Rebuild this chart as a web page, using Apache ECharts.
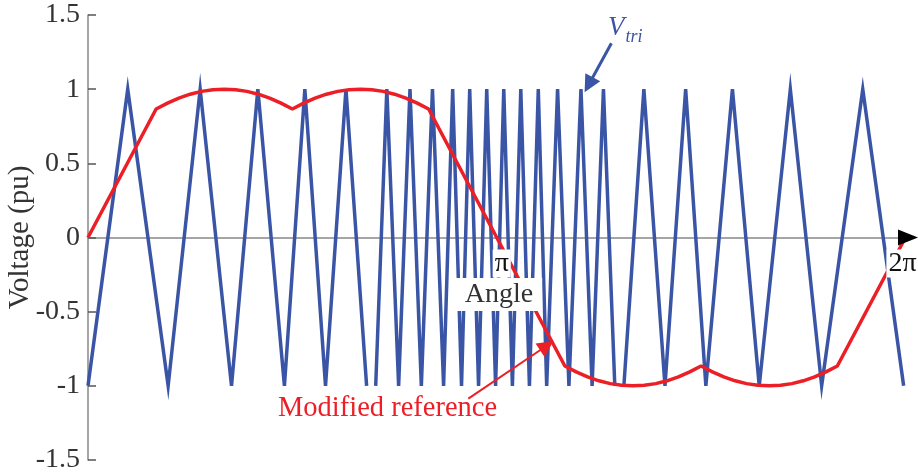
<!DOCTYPE html>
<html>
<head>
<meta charset="utf-8">
<script src="https://cdn.jsdelivr.net/npm/echarts@6/dist/echarts.min.js"></script>
<style>
  html, body { margin: 0; padding: 0; background: #fff; }
  #chart { width: 918px; height: 476px; }
</style>
</head>
<body>
<div id="chart"></div>
<script>
// Angle in degrees (0 .. 360 = 0 .. 2π)
// Variable-frequency triangular carrier: vertex angles and levels
// (null marks the carrier restarts, where the trace is broken)
const carrierAngle = [
  0, 17.5, 35.3, 49.4, 63.2, 74.8, 86.5, 95.5, 104.6, 113.6,
  122.7, 124.7, 126.7, 131.6, 136.8, 141.8, 146.8, 151.7, 156.6, 160.6, 164.5,
  168.1, 172.0, 175.6, 179.5, 183.1, 186.9, 190.6, 194.4, 198.3, 202.0,
  206.8, 211.8, 217.1, 222.0, 227.0, 232.0, 234.0, 236.0, 244.8, 254.1, 263.2,
  272.1, 283.8, 295.6, 309.3, 323.1, 341.2, 359.2
];
const carrierValue = [
  -1, 1, -1, 1, -1, 1, -1, 1, -1, 1,
  -1, null, -1, 1, -1, 1, -1, 1, -1, 1, -1,
  1, -1, 1, -1, 1, -1, 1, -1, 1, -1,
  1, -1, 1, -1, 1, -1, null, -1, 1, -1, 1,
  -1, 1, -1, 1, -1, 1, -1
];

// Modified reference waveform
const refAngle = [
  0, 30, 35, 40, 45, 50, 55, 60, 65, 70, 75, 80, 85, 90,
  95, 100, 105, 110, 115, 120, 125, 130, 135, 140, 145, 150,
  210, 215, 220, 225, 230, 235, 240, 245, 250, 255, 260, 265, 270,
  275, 280, 285, 290, 295, 300, 305, 310, 315, 320, 325, 330, 360
];
const refValue = [
  0, 0.866, 0.906, 0.940, 0.966, 0.985, 0.996, 1.0, 0.996, 0.985, 0.966, 0.940, 0.906, 0.866,
  0.906, 0.940, 0.966, 0.985, 0.996, 1.0, 0.996, 0.985, 0.966, 0.940, 0.906, 0.866,
  -0.866, -0.906, -0.940, -0.966, -0.985, -0.996, -1.0, -0.996, -0.985, -0.966, -0.940, -0.906, -0.866,
  -0.906, -0.940, -0.966, -0.985, -0.996, -1.0, -0.996, -0.985, -0.966, -0.940, -0.906, -0.866, 0
];

const yTicks = [-1.5, -1, -0.5, 0, 0.5, 1, 1.5];
const xTickAngle = [180, 360];
const xTickText = ['π', '2π'];
const X_MAX = 362;

const BLUE = '#3a55a5';
const RED = '#ec1f27';
const SERIF = '"Liberation Serif", "Times New Roman", serif';

const zip = (xs, ys) => xs.map((x, i) => [x, ys[i] === null ? '-' : ys[i]]);

const chart = echarts.init(document.getElementById('chart'), null, { renderer: 'canvas' });

chart.setOption({
  animation: false,
  backgroundColor: '#fff',
  grid: { left: 88, right: 8, top: 15, bottom: 16, containLabel: false, outerBoundsMode: 'none' },
  xAxis: {
    type: 'value',
    min: 0,
    max: X_MAX,
    interval: 180,
    axisLine: {
      onZero: true,
      lineStyle: { color: '#888', width: 1.5 }
    },
    axisTick: { show: false },
    splitLine: { show: false },
    axisLabel: { show: false }
  },
  yAxis: {
    type: 'value',
    min: yTicks[0],
    max: yTicks[yTicks.length - 1],
    interval: 0.5,
    name: 'Voltage (pu)',
    nameLocation: 'middle',
    nameRotate: 90,
    nameGap: 53,
    nameMoveOverlap: false,
    nameTextStyle: { fontFamily: SERIF, fontSize: 29, color: '#333' },
    axisLine: { show: true, lineStyle: { color: '#888', width: 1.5 } },
    axisTick: { show: true, inside: true, length: 8, lineStyle: { color: '#555', width: 1.5 } },
    splitLine: { show: false },
    axisLabel: {
      fontFamily: SERIF, fontSize: 28, color: '#333', margin: 8,
      formatter: v => String(v)
    }
  },
  series: [
    {
      name: 'Vtri',
      type: 'line',
      data: zip(carrierAngle, carrierValue),
      showSymbol: false,
      connectNulls: false,
      lineStyle: { color: BLUE, width: 3.5, join: 'miter' },
      itemStyle: { color: BLUE },
      z: 2,
      markLine: {
        silent: true,
        animation: false,
        symbol: ['none', 'triangle'],
        symbolSize: 17,
        label: { show: false },
        lineStyle: { color: BLUE, width: 3, type: 'solid' },
        data: [[{ coord: [230.5, 1.31] }, { coord: [220.5, 1.03] }]]
      }
    },
    {
      name: 'Modified reference',
      type: 'line',
      data: zip(refAngle, refValue),
      showSymbol: false,
      lineStyle: { color: RED, width: 3.5 },
      itemStyle: { color: RED },
      z: 3,
      markLine: {
        silent: true,
        animation: false,
        symbol: ['none', 'triangle'],
        symbolSize: 16,
        label: { show: false },
        lineStyle: { color: RED, width: 2, type: 'solid' },
        data: [[{ coord: [167.5, -1.086] }, { coord: [202.0, -0.73] }]]
      }
    }
  ]
});

// Axis annotations placed from the chart's own coordinate mapping
const px = (x, y) => chart.convertToPixel({ gridIndex: 0 }, [x, y]);
const end = px(X_MAX, 0);
const mid = px(X_MAX / 2, 0);

const tickLabels = xTickAngle.map((a, i) => {
  const p = px(a, 0);
  return {
    type: 'text',
    x: p[0] + (i === 0 ? 5 : -3),
    y: p[1] + 12,
    z: 100,
    style: {
      text: xTickText[i],
      font: '28px ' + SERIF,
      fill: '#111',
      align: 'center',
      verticalAlign: 'top',
      backgroundColor: '#fff',
      padding: [0, 2, 0, 2]
    }
  };
});

chart.setOption({
  graphic: [
    // arrow head of the angle axis
    {
      type: 'polygon',
      z: 100,
      shape: { points: [[end[0] - 12, end[1] - 8], [end[0] + 8, end[1]], [end[0] - 12, end[1] + 8]] },
      style: { fill: '#000' }
    },
    ...tickLabels,
    {
      type: 'text',
      x: mid[0],
      y: mid[1] + 57,
      z: 100,
      style: {
        text: 'Angle',
        font: '28px ' + SERIF,
        fill: '#333',
        align: 'center',
        verticalAlign: 'middle',
        backgroundColor: '#fff',
        padding: [2, 9, 3, 9]
      }
    },
    {
      type: 'text',
      x: 278,
      y: 394,
      style: {
        text: 'Modified reference',
        font: '28.5px ' + SERIF,
        fill: RED
      }
    },
    {
      type: 'text',
      x: 608,
      y: 14,
      style: {
        text: '{v|V}{s|tri}',
        rich: {
          v: { font: 'italic 27px ' + SERIF, fill: BLUE, verticalAlign: 'top' },
          s: { font: 'italic 18px ' + SERIF, fill: BLUE, padding: [14, 0, 0, 1] }
        }
      }
    }
  ]
});
</script>
</body>
</html>
